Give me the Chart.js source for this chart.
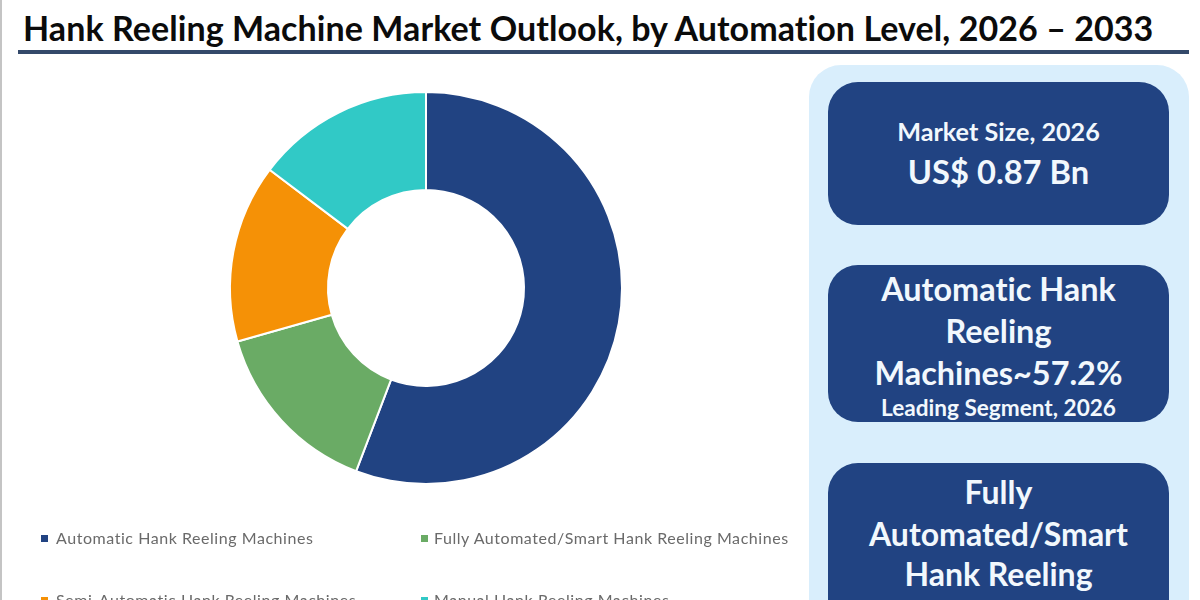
<!DOCTYPE html>
<html><head><meta charset="utf-8">
<script src="https://cdn.jsdelivr.net/npm/chart.js@4"></script>
<style>
html,body{margin:0;padding:0;background:#fff;width:1200px;height:600px;overflow:hidden}
body{position:relative;font-family:Lato,sans-serif;font-variant-ligatures:none}
#strip{position:absolute;left:0;top:0;width:2px;height:600px;background:#c4c4c4}
#title{position:absolute;left:23px;top:7px;width:1140px;font:700 34px/42px Lato,sans-serif;letter-spacing:.07px;color:#0b0b0b;white-space:nowrap}
#rule{position:absolute;left:18px;top:50px;width:1171px;height:4px;background:#34496a}
#panel{position:absolute;left:809px;top:65px;width:380px;height:600px;border-radius:32px;background:#d9eefc}
.card{position:absolute;left:828px;width:341px;background:#214382;color:#f2f8fd;border-radius:30px;text-align:center;font-weight:700}
.card div{position:absolute;left:0;right:0;white-space:nowrap}
canvas{position:absolute;left:0;top:0}
.lg{position:absolute;font:400 16px/20px Lato,sans-serif;letter-spacing:.55px;color:#6a6a6a;white-space:nowrap}
.sw{position:absolute;width:7px;height:7px}
</style></head><body>
<div id="strip"></div>
<div id="title">Hank Reeling Machine Market Outlook, by Automation Level, 2026 – 2033</div>
<div id="rule"></div>
<canvas id="c" width="800" height="600" style="width:800px;height:600px"></canvas>
<div id="panel"></div>
<div class="card" style="top:82px;height:143px">
  <div style="top:32px;font-size:25.2px;line-height:34px">Market Size, 2026</div>
  <div style="top:69px;font-size:32.7px;line-height:42px">US$ 0.87 Bn</div>
</div>
<div class="card" style="top:265px;height:157px">
  <div style="top:3px;font-size:32.4px;line-height:41px">Automatic Hank</div>
  <div style="top:45px;font-size:32.4px;line-height:41px">Reeling</div>
  <div style="top:87px;font-size:32.4px;line-height:41px">Machines~57.2%</div>
  <div style="top:130px;font-size:22.6px;line-height:26px">Leading Segment, 2026</div>
</div>
<div class="card" style="top:463px;height:190px">
  <div style="top:8px;font-size:32px;line-height:41px">Fully</div>
  <div style="top:50px;font-size:32px;line-height:41px">Automated/Smart</div>
  <div style="top:90px;font-size:32px;line-height:41px">Hank Reeling</div>
</div>
<div id="legend"></div>
<script>
const categories = ["Automatic Hank Reeling Machines","Fully Automated/Smart Hank Reeling Machines","Semi-Automatic Hank Reeling Machines","Manual Hank Reeling Machines"];
const shares = [55.8,14.8,14.7,14.7];
const colors = ["#214382","#6aab65","#f59106","#31c9c6"];
const legendX = [41,421,41,421];
const legendY = [539,539,601,601];
const textGap = [15,13,15,13];
const lg = document.getElementById('legend');
categories.forEach((t,i)=>{
  const s=document.createElement('div');s.className='sw';s.style.cssText=`left:${legendX[i]}px;top:${legendY[i]-4}px;background:${colors[i]}`;lg.appendChild(s);
  const d=document.createElement('div');d.className='lg';d.textContent=t;d.style.left=(legendX[i]+textGap[i])+'px';d.style.top=(legendY[i]-11)+'px';lg.appendChild(d);
});
new Chart(document.getElementById('c'),{
  type:'doughnut',
  data:{labels:categories,datasets:[{data:shares,backgroundColor:colors,borderColor:'#ffffff',borderWidth:2}]},
  options:{responsive:false,animation:false,cutout:'50%',
    layout:{padding:{left:229,right:177,top:91,bottom:115}},
    plugins:{legend:{display:false},tooltip:{enabled:false}}}
});
</script>
</body></html>
